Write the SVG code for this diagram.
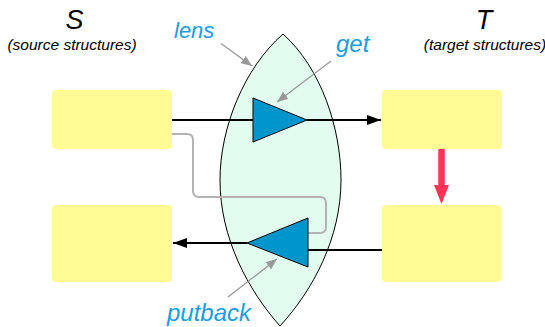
<svg xmlns="http://www.w3.org/2000/svg" width="545" height="327" viewBox="0 0 545 327">
  <style>
    .box { fill: #fffb94; }
    .label { font-family: "Liberation Sans", Arial, sans-serif; font-style: italic; }
    .big { font-size: 27px; fill: #000; }
    .small { font-size: 15.5px; fill: #000; }
    .blue { font-size: 24px; fill: #1a9de0; }
    .op { fill: #0096cc; stroke: #000; stroke-width: 1; }
    .flow { fill: none; stroke: #000; stroke-width: 2; }
    .ptr { fill: none; stroke: #999; stroke-width: 1.3; }
  </style>
  <defs>
    <marker id="arrowBlack" markerWidth="14" markerHeight="10" refX="14" refY="5" orient="auto" markerUnits="userSpaceOnUse">
      <path d="M0,0 L14,5 L0,10 Z" fill="#000"/>
    </marker>
    <marker id="arrowGray" markerWidth="11" markerHeight="9" refX="11" refY="4.5" orient="auto" markerUnits="userSpaceOnUse">
      <path d="M0,0 L11,4.5 L0,9 Z" fill="#999"/>
    </marker>
  </defs>

  <!-- headings -->
  <text class="label big" x="74.5" y="28.5" text-anchor="middle">S</text>
  <text class="label small" x="72" y="50" text-anchor="middle">(source structures)</text>
  <text class="label big" x="484" y="28.5" text-anchor="middle">T</text>
  <text class="label small" x="485" y="50" text-anchor="middle">(target structures)</text>

  <!-- lens body -->
  <g id="lens">
    <path d="M283,34 C244,68 220,128 220,180 C220,238 248,290 280,326 C313,290 341,238 341,180 C341,128 321,68 283,34 Z" fill="#e2fcf0" stroke="#000" stroke-width="1"/>
  </g>

  <!-- structures -->
  <g id="source-top"><rect class="box" x="52" y="90" width="120" height="59" rx="4"/></g>
  <g id="source-bottom"><rect class="box" x="52" y="205" width="120" height="77" rx="4"/></g>
  <g id="target-top"><rect class="box" x="382" y="90" width="120" height="59" rx="4"/></g>
  <g id="target-bottom"><rect class="box" x="382" y="205" width="119" height="77" rx="4"/></g>

  <!-- connectors -->
  <g id="connectors">
    <path d="M172,134 H187 Q193,134 193,140 V191 Q193,197 199,197 H320 Q326,197 326,203 V227 Q326,233 320,233 H308" fill="none" stroke="#b3b3b3" stroke-width="2"/>
    <line class="flow" x1="172" y1="120" x2="253" y2="120"/>
    <line class="flow" x1="307" y1="120" x2="381" y2="120" marker-end="url(#arrowBlack)"/>
    <line class="flow" x1="382" y1="250" x2="308" y2="250"/>
    <line class="flow" x1="247" y1="243" x2="173" y2="243" marker-end="url(#arrowBlack)"/>
    <line x1="441.5" y1="149" x2="441.5" y2="188" stroke="#ff3355" stroke-width="6.5"/>
    <path d="M434,185 L449,185 L441.5,204 Z" fill="#ff3355"/>
  </g>

  <!-- get / putback -->
  <g id="get"><polygon class="op" points="253,98 307,120 253,142"/></g>
  <g id="putback"><polygon class="op" points="247,243 308,218 308,267"/></g>

  <!-- labels with pointers -->
  <g id="lens-label">
    <text class="label blue" x="174" y="38" style="font-size:22px">lens</text>
    <line class="ptr" x1="221" y1="43.5" x2="252" y2="66" marker-end="url(#arrowGray)"/>
  </g>
  <g id="get-label">
    <text class="label blue" x="336" y="51.5">get</text>
    <line class="ptr" x1="331" y1="61" x2="277" y2="102" marker-end="url(#arrowGray)"/>
  </g>
  <g id="putback-label">
    <text class="label blue" x="167" y="321">putback</text>
    <line class="ptr" x1="228" y1="297" x2="277" y2="259" marker-end="url(#arrowGray)"/>
  </g>
</svg>
